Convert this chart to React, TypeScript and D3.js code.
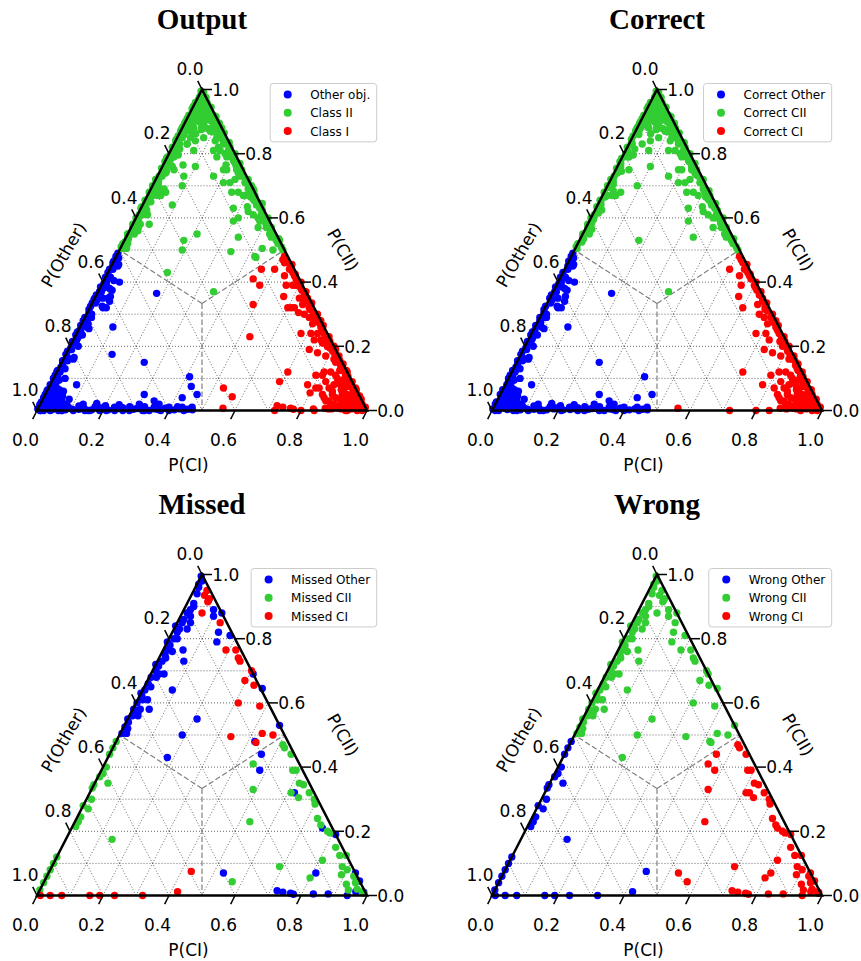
import React from 'react';
import * as d3 from 'd3';

type Pt = [number, number]; // [P(CI), P(CII)], P(Other) = 1 - both

const PANEL_TITLES = ['Output', 'Correct', 'Missed', 'Wrong'];
const LEGEND_LABELS = [
  ['Other obj.', 'Class II', 'Class I'],
  ['Correct Other', 'Correct CII', 'Correct CI'],
  ['Missed Other', 'Missed CII', 'Missed CI'],
  ['Wrong Other', 'Wrong CII', 'Wrong CI'],
];
const CLASS_COLORS = ['#0000ff', '#32cd32', '#ff0000'];
const TICKS = [0, 0.2, 0.4, 0.6, 0.8, 1.0];
const GRID = [0.1, 0.2, 0.3, 0.4, 0.5, 0.6, 0.7, 0.8, 0.9];

// ---- Correctly classified objects ----
const correctOther: Pt[] = [
  [0.00,0.49],[0.01,0.475],[0.005,0.465],[0.02,0.455],[0.01,0.44],[0.00,0.43],[0.015,0.415],[0.03,0.405],[0.005,0.395],[0.02,0.385],
  [0.01,0.37],[0.00,0.36],[0.025,0.35],[0.01,0.335],[0.035,0.325],[0.00,0.315],[0.015,0.30],[0.02,0.29],[0.005,0.28],[0.01,0.265],
  [0.03,0.255],[0.00,0.245],[0.02,0.235],[0.01,0.22],[0.005,0.21],[0.025,0.20],[0.01,0.19],[0.00,0.175],[0.03,0.165],[0.015,0.155],
  [0.005,0.145],[0.02,0.13],[0.01,0.12],[0.00,0.11],[0.035,0.10],[0.015,0.09],[0.005,0.08],[0.025,0.07],[0.01,0.06],[0.00,0.05],
  [0.04,0.045],[0.02,0.04],[0.01,0.03],[0.03,0.025],[0.00,0.02],[0.05,0.02],[0.02,0.01],[0.00,0.005],[0.01,0.00],
  [0.005,0.012],[0.0,0.027],[0.01,0.042],[0.0,0.065],[0.005,0.09],[0.0,0.10],[0.01,0.105],[0.0,0.125],[0.005,0.135],[0.0,0.155],
  [0.01,0.165],[0.0,0.185],[0.005,0.195],[0.0,0.215],[0.01,0.225],[0.0,0.235],[0.005,0.25],[0.0,0.265],[0.01,0.275],[0.0,0.29],
  [0.005,0.305],[0.0,0.325],[0.01,0.345],[0.0,0.35],[0.005,0.37],[0.0,0.385],[0.01,0.40],[0.0,0.415],[0.005,0.45],[0.0,0.465],[0.0,0.48],
  [0.02,0.45],[0.05,0.40],[0.04,0.375],[0.05,0.34],[0.05,0.32],[0.04,0.32],[0.015,0.29],[0.10,0.26],[0.02,0.26],[0.03,0.16],
  [0.08,0.08],[0.04,0.06],[0.25,0.15],[0.18,0.365],[0.41,0.105],[0.46,0.05],[0.42,0.04],[0.30,0.05],[0.30,0.02],[0.34,0.03],
  [0.08,0.02],[0.02,0.02],[0.03,0.38],[0.045,0.355],
  [0.035,0.008],[0.06,0.012],[0.075,0.0],[0.09,0.01],[0.105,0.004],[0.12,0.014],[0.14,0.006],[0.155,0.0],[0.17,0.012],[0.185,0.005],
  [0.20,0.015],[0.215,0.002],[0.23,0.01],[0.245,0.006],[0.26,0.0],[0.275,0.012],[0.29,0.004],[0.31,0.008],[0.325,0.0],[0.35,0.01],
  [0.365,0.003],[0.385,0.007],[0.40,0.0],[0.43,0.005],[0.445,0.0],[0.47,0.002],[0.13,0.02],[0.17,0.022],[0.24,0.018],[0.36,0.02],
  [0.02,0.0],[0.045,0.003],[0.065,0.0],[0.085,0.002],[0.11,0.0],[0.125,0.004],[0.145,0.0],[0.165,0.002],[0.19,0.008],[0.21,0.0],
  [0.235,0.003],[0.255,0.009],[0.28,0.0],[0.30,0.006],[0.32,0.012],[0.34,0.0],[0.355,0.005],[0.375,0.0],[0.395,0.01],[0.415,0.002],
  [0.435,0.01],[0.455,0.004],[0.465,0.01],
  [0.03,0.035],[0.045,0.025],[0.06,0.03],[0.025,0.055],[0.07,0.015],[0.015,0.075],[0.055,0.045],[0.035,0.065],[0.08,0.035],[0.02,0.095],
  [0.01,0.015],[0.025,0.015],[0.015,0.04],[0.04,0.01],[0.06,0.005],[0.03,0.05],[0.05,0.06],[0.02,0.065],[0.065,0.02],[0.01,0.08],
];

const correctCII: Pt[] = [
  [0.00,0.995],[0.01,0.985],[0.005,0.975],[0.02,0.968],[0.01,0.96],[0.03,0.955],[0.00,0.948],[0.04,0.942],[0.02,0.936],[0.05,0.93],
  [0.01,0.925],[0.06,0.918],[0.03,0.914],[0.00,0.91],[0.07,0.905],[0.045,0.90],[0.02,0.895],[0.06,0.89],[0.00,0.885],[0.035,0.88],
  [0.08,0.878],[0.01,0.87],[0.10,0.868],[0.05,0.862],[0.12,0.856],[0.025,0.905],[0.015,0.94],[0.09,0.895],[0.07,0.88],[0.04,0.925],
  [0.11,0.88],[0.13,0.86],[0.14,0.845],[0.0,0.87],
  [0.005,0.98],[0.015,0.975],[0.0,0.96],[0.02,0.96],[0.035,0.955],[0.0,0.94],[0.02,0.942],[0.04,0.94],[0.055,0.938],[0.0,0.92],
  [0.02,0.92],[0.04,0.92],[0.06,0.918],[0.075,0.92],[0.0,0.90],[0.02,0.90],[0.04,0.90],[0.06,0.905],[0.08,0.90],[0.095,0.90],
  [0.0,0.88],[0.03,0.885],[0.06,0.875],[0.10,0.88],[0.115,0.88],
  [0.06,0.84],[0.07,0.81],[0.12,0.85],[0.15,0.83],[0.20,0.79],[0.19,0.75],[0.21,0.775],[0.17,0.73],[0.21,0.71],[0.23,0.71],
  [0.25,0.68],[0.28,0.63],[0.30,0.59],[0.34,0.54],[0.37,0.60],[0.41,0.57],[0.43,0.55],[0.04,0.75],[0.09,0.70],[0.10,0.76],
  [0.04,0.67],[0.05,0.68],[0.03,0.67],[0.01,0.62],[0.02,0.55],[0.18,0.53],[0.35,0.37],[0.29,0.67],[0.32,0.635],[0.35,0.61],
  [0.00,0.875],[0.01,0.88],[0.08,0.85],[0.09,0.87],[0.095,0.874],[0.057,0.884],[0.024,0.889],[0.13,0.81],[0.17,0.80],[0.18,0.79],
  [0.02,0.79],[0.03,0.796],[0.04,0.83],
  [0.00,0.51],[0.01,0.525],[0.005,0.54],[0.015,0.555],[0.02,0.565],[0.00,0.58],[0.01,0.595],[0.005,0.61],[0.02,0.625],[0.01,0.64],
  [0.00,0.655],[0.015,0.67],[0.025,0.685],[0.00,0.70],[0.01,0.715],[0.005,0.73],[0.02,0.745],[0.01,0.76],[0.00,0.775],[0.015,0.79],
  [0.005,0.80],[0.025,0.815],[0.01,0.83],[0.00,0.845],[0.015,0.86],
  [0.005,0.505],[0.0,0.52],[0.01,0.535],[0.0,0.55],[0.005,0.57],[0.01,0.585],[0.0,0.60],[0.015,0.615],[0.0,0.635],[0.005,0.65],
  [0.01,0.665],[0.0,0.68],[0.005,0.695],[0.015,0.705],[0.0,0.72],[0.01,0.74],[0.0,0.755],[0.005,0.77],[0.0,0.785],[0.01,0.805],
  [0.0,0.82],[0.005,0.835],[0.0,0.855],[0.01,0.865],[0.0,0.895],
  [0.485,0.51],[0.46,0.53],[0.445,0.545],[0.43,0.56],[0.405,0.58],[0.395,0.595],[0.375,0.61],[0.36,0.63],[0.345,0.64],[0.325,0.66],
  [0.305,0.68],[0.295,0.69],[0.275,0.71],[0.26,0.73],[0.245,0.74],[0.225,0.76],[0.205,0.78],[0.195,0.79],[0.175,0.81],[0.16,0.83],
  [0.145,0.84],[0.125,0.86],[0.11,0.875],[0.095,0.89],[0.075,0.91],[0.055,0.93],[0.035,0.95],[0.02,0.97],[0.44,0.54],[0.38,0.60],
  [0.315,0.665],[0.23,0.75],[0.19,0.80],
  [0.495,0.50],[0.47,0.52],[0.465,0.535],[0.44,0.55],[0.425,0.57],[0.40,0.585],[0.40,0.60],[0.375,0.615],[0.37,0.625],[0.355,0.645],
  [0.33,0.655],[0.325,0.67],[0.315,0.685],[0.29,0.70],[0.28,0.72],[0.25,0.735],[0.245,0.75],[0.23,0.77],[0.205,0.785],[0.20,0.80],
  [0.175,0.82],[0.165,0.835],[0.14,0.85],[0.135,0.865],[0.115,0.88],[0.105,0.895],[0.085,0.915],[0.06,0.93],[0.055,0.945],[0.035,0.96],
  [0.025,0.975],[0.01,0.99],
  [0.20,0.75],[0.27,0.68],[0.33,0.62],[0.24,0.72],[0.15,0.81],[0.12,0.84],[0.385,0.57],
];

const correctCI: Pt[] = [
  [0.51,0.48],[0.53,0.46],[0.545,0.45],[0.56,0.43],[0.58,0.41],[0.60,0.39],[0.615,0.375],[0.63,0.36],[0.65,0.34],[0.665,0.325],
  [0.68,0.31],[0.70,0.29],[0.715,0.275],[0.73,0.26],[0.75,0.24],[0.765,0.225],[0.78,0.21],[0.80,0.19],[0.815,0.175],[0.83,0.16],
  [0.85,0.14],[0.865,0.125],[0.88,0.11],[0.895,0.095],[0.91,0.08],[0.93,0.06],[0.945,0.045],[0.96,0.03],[0.975,0.015],[0.99,0.005],
  [0.52,0.47],[0.545,0.455],[0.545,0.44],[0.57,0.425],[0.60,0.40],[0.605,0.385],[0.63,0.37],[0.645,0.35],[0.665,0.335],[0.67,0.315],
  [0.70,0.30],[0.715,0.28],[0.735,0.265],[0.74,0.25],[0.77,0.23],[0.78,0.215],[0.80,0.20],[0.803,0.185],[0.83,0.17],[0.84,0.155],
  [0.855,0.145],[0.86,0.13],[0.88,0.12],[0.89,0.105],[0.91,0.09],[0.915,0.075],[0.935,0.065],[0.945,0.05],[0.965,0.035],[0.975,0.02],
  [0.99,0.01],
  [0.50,0.44],[0.54,0.42],[0.57,0.42],[0.56,0.39],[0.57,0.355],[0.63,0.365],[0.64,0.33],[0.60,0.32],[0.66,0.30],[0.68,0.29],
  [0.72,0.28],[0.70,0.27],[0.68,0.24],[0.71,0.24],[0.73,0.22],[0.765,0.215],[0.78,0.20],[0.73,0.19],[0.76,0.18],[0.79,0.17],
  [0.82,0.16],[0.81,0.12],[0.79,0.11],[0.70,0.12],[0.78,0.08],[0.82,0.07],[0.84,0.05],[0.85,0.04],[0.87,0.03],[0.89,0.02],
  [0.91,0.03],[0.94,0.01],[0.95,0.02],[0.56,0.007],[0.72,0.0],[0.80,0.0],[0.84,0.0],[0.87,0.007],[0.91,0.007],[0.90,0.06],
  [0.92,0.07],[0.90,0.085],[0.88,0.095],
  [0.92,0.04],[0.935,0.03],[0.90,0.05],[0.925,0.02],[0.95,0.005],[0.97,0.0],[0.91,0.015],[0.89,0.065],[0.885,0.04],[0.865,0.06],
  [0.955,0.03],[0.94,0.045],[0.98,0.008],[0.965,0.012],[0.87,0.09],[0.905,0.075],[0.86,0.08],[0.93,0.055],
  [0.86,0.10],[0.88,0.08],[0.895,0.07],[0.85,0.07],[0.87,0.05],[0.90,0.035],[0.915,0.05],[0.93,0.04],[0.945,0.025],[0.96,0.015],
  [0.985,0.0],[0.88,0.02],[0.86,0.03],[0.89,0.005],[0.92,0.005],[0.935,0.0],[0.83,0.09],[0.85,0.11],[0.83,0.12],
];

// ---- Misclassified objects, grouped by true class ----
const missedOther: Pt[] = [
  [0.01,0.98],[0.01,0.96],[0.015,0.94],[0.02,0.91],[0.02,0.89],[0.015,0.88],[0.015,0.86],[0.015,0.85],[0.017,0.83],[0.015,0.82],
  [0.015,0.80],[0.013,0.78],[0.011,0.765],[0.013,0.75],[0.014,0.73],[0.011,0.715],[0.01,0.70],[0.006,0.68],[0.007,0.66],[0.007,0.64],
  [0.008,0.62],[0.003,0.60],[0.003,0.58],[0.009,0.56],[0.007,0.54],[0.004,0.525],[0.005,0.505],
  [0.0,0.995],[0.005,0.97],[0.025,0.90],[0.03,0.87],[0.0,0.84],[0.025,0.80],[0.0,0.79],[0.03,0.76],[0.02,0.74],
  [0.0,0.72],[0.025,0.69],[0.02,0.65],[0.0,0.63],[0.015,0.61],[0.02,0.57],[0.0,0.55],[0.015,0.52],
  [0.04,0.83],[0.04,0.85],[0.06,0.765],[0.08,0.73],[0.04,0.69],[0.022,0.68],[0.09,0.64],[0.03,0.61],[0.05,0.58],[0.023,0.58],
  [0.026,0.56],[0.019,0.505],[0.21,0.55],[0.19,0.50],[0.18,0.43],[0.14,0.82],[0.15,0.79],[0.09,0.89],[0.12,0.88],[0.18,0.81],
  [0.06,0.92],[0.10,0.87],
  [0.31,0.69],[0.36,0.645],[0.47,0.53],[0.46,0.44],[0.48,0.39],[0.42,0.48],[0.62,0.32],[0.76,0.21],[0.81,0.19],[0.81,0.07],
  [0.53,0.07],[0.72,0.015],[0.74,0.01],[0.765,0.007],[0.775,0.004],[0.835,0.005],[0.88,0.005],[0.94,0.0],[0.96,0.012],[0.93,0.07],
  [0.955,0.045],[0.985,0.01],
];

const missedCII: Pt[] = [
  [0.00,0.48],[0.00,0.46],[0.00,0.44],[0.01,0.40],[0.01,0.38],[0.04,0.35],[0.00,0.345],[0.00,0.335],[0.02,0.27],[0.01,0.245],
  [0.01,0.23],[0.01,0.215],[0.14,0.175],[0.00,0.12],[0.00,0.10],[0.00,0.08],[0.00,0.06],[0.00,0.04],[0.00,0.017],[0.005,0.37],
  [0.015,0.30],[0.0,0.28],
  [0.51,0.47],[0.52,0.46],[0.55,0.44],[0.58,0.39],[0.59,0.39],[0.62,0.35],[0.635,0.345],[0.665,0.32],[0.69,0.30],[0.70,0.285],
  [0.61,0.32],[0.64,0.305],[0.73,0.24],[0.81,0.11],[0.78,0.20],[0.79,0.195],[0.855,0.125],[0.875,0.125],[0.88,0.09],[0.89,0.065],
  [0.93,0.06],[0.945,0.04],[0.935,0.017],[0.96,0.02],[0.98,0.012],[0.985,0.007],[0.49,0.33],[0.53,0.23],[0.69,0.09],[0.45,0.41],
  [0.57,0.043],[0.80,0.055],[0.75,0.22],[0.83,0.15],[0.90,0.08],[0.92,0.035],
];

const missedCI: Pt[] = [
  [0.04,0.935],[0.06,0.915],[0.06,0.88],[0.04,0.95],[0.06,0.925],[0.13,0.85],[0.19,0.765],[0.22,0.765],[0.24,0.74],[0.25,0.73],
  [0.30,0.70],[0.295,0.67],[0.33,0.655],[0.31,0.60],[0.38,0.59],[0.43,0.505],[0.465,0.50],[0.34,0.495],[0.425,0.477],
  [0.01,0.0],[0.04,0.0],[0.075,0.0],[0.16,0.0],[0.19,0.0],[0.235,0.0],[0.32,0.0],[0.42,0.012],[0.43,0.075],
];

// predicted class = argmax of (P(Other), P(CII), P(CI))
const predicted = (p: Pt) => d3.maxIndex([1 - p[0] - p[1], p[1], p[0]]);
const missedAll: Pt[] = [...missedOther, ...missedCII, ...missedCI];
const wrongByPred: Pt[][] = [0, 1, 2].map((c) => missedAll.filter((p) => predicted(p) === c));
const correctSeries: Pt[][] = [correctOther, correctCII, correctCI];
const outputSeries: Pt[][] = [0, 1, 2].map((c) => [...correctSeries[c], ...wrongByPred[c]]);
const missedSeries: Pt[][] = [missedOther, missedCII, missedCI];

const PANEL_SERIES = [outputSeries, correctSeries, missedSeries, wrongByPred];
const PANEL_OFFSETS: [number, number][] = [[0, 0], [455, 0], [0, 485], [455, 485]];

const FONT = '"DejaVu Sans", sans-serif';
const fmt = d3.format('.1f');

let measureCtx: CanvasRenderingContext2D | null = null;
function textWidth(s: string, font: string) {
  if (!measureCtx) measureCtx = document.createElement('canvas').getContext('2d');
  if (!measureCtx) return s.length * 7;
  measureCtx.font = font;
  return measureCtx.measureText(s).width;
}

function Panel({ ox, oy, title, labels, series }: { ox: number; oy: number; title: string; labels: string[]; series: Pt[][] }) {
  const xs = d3.scaleLinear().domain([0, 1]).range([37, 367]);
  const ys = d3.scaleLinear().domain([0, 1]).range([410.5, 89.5]);
  const proj = (a: number, b: number): [number, number] => [xs(a + b / 2), ys(b)];
  const line = d3.line();

  const gridPaths: string[] = [];
  GRID.forEach((v) => {
    gridPaths.push(line([proj(0, v), proj(1 - v, v)]) as string);
    gridPaths.push(line([proj(v, 0), proj(v, 1 - v)]) as string);
    gridPaths.push(line([proj(1 - v, 0), proj(0, 1 - v)]) as string);
  });
  const c = proj(1 / 3, 1 / 3);
  const boundaryPaths = [
    line([c, proj(0.5, 0)]) as string,
    line([c, proj(0, 0.5)]) as string,
    line([c, proj(0.5, 0.5)]) as string,
  ];
  const triangle = line([proj(0, 0), proj(1, 0), proj(0, 1), proj(0, 0)]) + 'Z';

  const maxW = d3.max(labels, (l) => textWidth(l, `12px ${FONT}`)) || 60;
  const legW = 40 + maxW + 6.5;
  const legRight = 376.7;
  const legLeft = legRight - legW;
  const legTop = 83.5;

  return (
    <g transform={`translate(${ox},${oy})`}>
      <text x={202} y={29} textAnchor="middle" fontFamily='"Liberation Serif", "Times New Roman", serif' fontWeight="bold" fontSize={29}>
        {title}
      </text>
      {gridPaths.map((d, i) => (
        <path key={'g' + i} d={d} stroke="#000" strokeWidth={0.7} strokeDasharray="1 2" fill="none" opacity={0.85} />
      ))}
      {boundaryPaths.map((d, i) => (
        <path key={'b' + i} d={d} stroke="#808080" strokeWidth={1.2} strokeDasharray="5.5 2.5" fill="none" />
      ))}
      {series.map((pts, ci) => (
        <g key={'s' + ci} fill={CLASS_COLORS[ci]}>
          {pts.map((p, i) => {
            const [x, y] = proj(p[0], p[1]);
            return <circle key={i} cx={x} cy={y} r={3.7} />;
          })}
        </g>
      ))}
      <path d={triangle} stroke="#000" strokeWidth={2.5} fill="none" strokeLinejoin="miter" />
      {TICKS.map((v) => {
        const [bx, by] = proj(v, 0);
        return (
          <g key={'bt' + v}>
            <line x1={bx} y1={by} x2={bx - 4.3} y2={by + 8.6} stroke="#000" strokeWidth={1.5} />
            <text x={bx - 11.5} y={445.5} textAnchor="middle" fontFamily={FONT} fontSize={17}>{fmt(v)}</text>
          </g>
        );
      })}
      {TICKS.map((v) => {
        const [bx, by] = proj(1 - v, v);
        return (
          <g key={'rt' + v}>
            <line x1={bx} y1={by} x2={bx + 10} y2={by} stroke="#000" strokeWidth={1.5} />
            <text x={bx + 10.3} y={by + 6.2} textAnchor="start" fontFamily={FONT} fontSize={17}>{fmt(v)}</text>
          </g>
        );
      })}
      {TICKS.map((v) => {
        const [bx, by] = proj(0, 1 - v);
        return (
          <g key={'lt' + v}>
            <line x1={bx} y1={by} x2={bx - 4.3} y2={by - 8.6} stroke="#000" strokeWidth={1.5} />
            <text x={bx - 12} y={by - 20.5 + 6.2} textAnchor="middle" fontFamily={FONT} fontSize={17}>{fmt(v)}</text>
          </g>
        );
      })}
      <text x={188.5} y={471} textAnchor="middle" fontFamily={FONT} fontSize={17}>P(CI)</text>
      <text transform="translate(64,255) rotate(-60)" y={5.5} textAnchor="middle" fontFamily={FONT} fontSize={17}>P(Other)</text>
      <text transform="translate(342.5,250) rotate(60)" y={5.5} textAnchor="middle" fontFamily={FONT} fontSize={17}>P(CII)</text>
      <rect x={legLeft} y={legTop} width={legW} height={58.4} rx={3} ry={3} fill="#fff" fillOpacity={0.8} stroke="#cccccc" strokeWidth={1} />
      {labels.map((l, i) => {
        const cy = legTop + 11 + i * 18.3;
        return (
          <g key={'lg' + i}>
            <circle cx={legLeft + 17.5} cy={cy} r={4} fill={CLASS_COLORS[i]} />
            <text x={legLeft + 40} y={cy + 4.4} fontFamily={FONT} fontSize={12}>{l}</text>
          </g>
        );
      })}
    </g>
  );
}

export default function App() {
  return (
    <svg width={861} height={961} style={{ position: 'absolute', left: 0, top: 0, background: '#fff' }}>
      <rect width={861} height={961} fill="#fff" />
      {PANEL_TITLES.map((t, i) => (
        <Panel key={t} ox={PANEL_OFFSETS[i][0]} oy={PANEL_OFFSETS[i][1]} title={t} labels={LEGEND_LABELS[i]} series={PANEL_SERIES[i]} />
      ))}
    </svg>
  );
}
